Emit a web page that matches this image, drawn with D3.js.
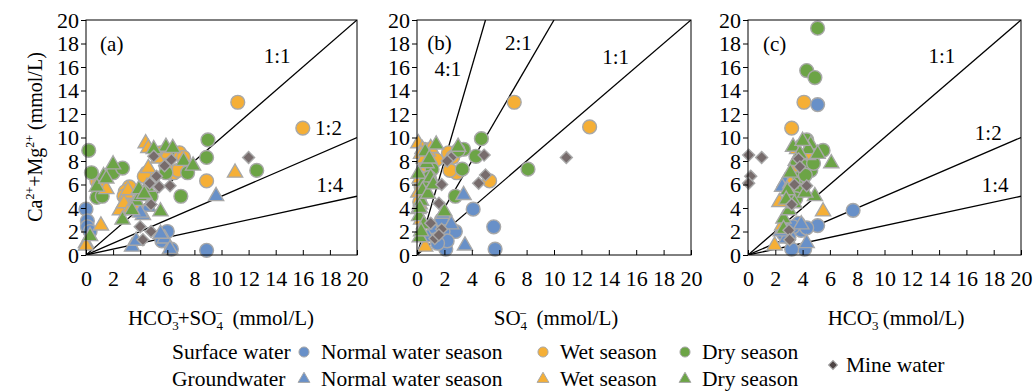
<!DOCTYPE html>
<html>
<head>
<meta charset="utf-8">
<script src="https://cdn.jsdelivr.net/npm/d3@7/dist/d3.min.js"></script>
<style>
  body { margin: 0; background: #fff; }
  svg text { font-family: "Liberation Serif", "Tinos", "Times New Roman", "DejaVu Serif", serif; fill: #000; }
</style>
</head>
<body>
<svg id="chart" width="1035" height="392"></svg>
<script>
// axis ticks (mmol/L), shared by all panels
const ticks = [0, 2, 4, 6, 8, 10, 12, 14, 16, 18, 20];

// (a) HCO3- + SO4- vs Ca2+ + Mg2+
const aSurfNormal = [[0,3.9],[0.1,2.9],[0.1,2.4],[0.3,2.0],[6.0,2.0],[5.6,1.2],[6.3,0.5],[8.9,0.4]];
const aSurfWet = [[11.2,13.0],[16.0,10.8],[8.9,6.3],[0.8,6.3],[1.0,6.1],[3.2,5.8],[2.9,5.4],[2.8,5.0],[3.0,4.6],[4.5,7.0],[4.3,6.7],[5.5,8.7],[6.2,8.8],[6.9,8.7],[7.2,8.3],[6.5,7.0],[6.8,7.2],[5.9,7.6],[3.5,4.3]];
const aSurfDry = [[0.2,8.9],[0.4,7.0],[2.0,7.0],[2.7,7.4],[0.8,4.9],[1.2,5.0],[9.0,9.8],[8.9,8.3],[12.6,7.2],[7.0,5.0],[7.5,7.0],[5.9,7.0],[4.8,5.0],[6.1,8.9]];
const aGwNormal = [[9.6,5.0],[3.4,0.7],[4.2,3.4],[4.6,4.1],[5.8,1.4],[5.5,1.8],[6.2,0.5],[0,1.0],[4.0,3.6],[3.7,1.2]];
const aGwWet = [[4.4,9.5],[4.6,9.1],[11.0,7.0],[1.1,2.5],[0,0.8],[4.6,7.4],[1.5,5.6],[3.0,5.2],[2.5,3.8],[3.1,5.5],[2.8,4.4],[6.0,8.6],[5.3,8.2],[3.3,4.0]];
const aGwDry = [[2.0,7.7],[1.3,6.7],[0.8,5.8],[0.3,1.6],[5.9,9.2],[6.4,9.1],[7.2,8.0],[7.9,7.6],[5.5,3.7],[3.7,4.6],[2.7,3.0],[3.4,3.8],[4.0,5.0],[4.5,5.8],[1.5,6.5],[5.0,9.0],[3.9,5.6],[4.3,5.2]];
const aMine = [[5.0,8.4],[5.8,7.6],[6.3,8.1],[5.2,6.7],[4.7,6.1],[5.4,5.8],[6.2,5.9],[4.8,4.3],[4.0,2.4],[4.8,2.0],[4.2,1.3],[12.0,8.3]];

// (b) SO4- vs Ca2+ + Mg2+
const bSurfNormal = [[4.1,3.9],[5.6,2.4],[5.7,0.5],[2.1,0.5],[2.8,2.0],[1.8,3.0],[1.9,2.0],[2.2,1.2],[1.5,1.0]];
const bSurfWet = [[7.1,13.0],[12.6,10.9],[5.3,6.3],[2.9,7.0],[2.3,8.7],[1.4,8.1],[2.6,8.3],[0.5,9.0],[0.3,5.8],[0.7,7.6],[0.2,4.5],[2.4,7.2]];
const bSurfDry = [[4.7,9.9],[8.1,7.3],[4.3,8.4],[3.4,9.0],[3.3,7.3],[2.8,5.0],[1.1,7.3],[0.9,6.6],[0.4,5.3],[3.0,8.9]];
const bGwNormal = [[3.5,0.8],[3.4,5.1],[1.9,3.5],[1.2,2.2],[0.8,1.5],[2.5,2.6]];
const bGwWet = [[0.1,9.5],[0.4,9.0],[0.3,8.6],[0.6,7.9],[0.2,6.5],[0.1,5.3],[0.2,4.3],[0.1,3.9],[0.6,0.7],[0.3,3.0],[0.8,8.8],[0.5,8.2],[1.0,9.1]];
const bGwDry = [[0.2,1.5],[0.15,3.3],[0.3,4.6],[0.45,6.2],[0.7,7.8],[1.4,9.4],[3.0,9.2],[2.0,3.7],[0.1,6.9],[0.6,8.8],[0.9,8.2],[0.4,5.5],[0.2,4.0],[1.0,6.6],[0.8,5.2],[1.2,6.0],[0.5,2.6],[0.3,2.0]];
const bMine = [[4.9,8.5],[10.9,8.3],[5.0,6.8],[4.5,6.1],[2.5,8.3],[1.8,6.0],[1.6,4.4],[1.8,2.2],[1.3,1.4],[2.2,8.0],[1.0,2.7],[1.6,1.7]];

// (c) HCO3- vs Ca2+ + Mg2+
const cSurfNormal = [[5.1,12.8],[7.7,3.8],[5.1,2.5],[4.15,0.5],[3.2,0.5],[3.7,2.7],[3.9,2.1],[3.3,2.4],[2.6,1.8],[4.3,2.3],[3.0,1.5]];
const cSurfWet = [[4.1,13.0],[3.2,10.8],[4.2,8.0],[3.9,7.0],[4.4,8.6],[3.6,7.5],[4.0,6.2],[3.3,5.4]];
const cSurfDry = [[5.1,19.3],[4.3,15.7],[4.9,15.1],[4.3,9.8],[5.5,8.9],[4.5,8.2],[4.6,7.2],[4.0,7.6],[3.6,6.5],[3.9,5.5],[3.5,4.8],[4.2,6.8],[4.8,7.8],[3.3,6.2]];
const cGwNormal = [[2.7,6.2],[4.3,1.0],[2.8,1.4],[2.4,2.0],[3.9,2.6],[2.5,5.8]];
const cGwWet = [[5.5,3.7],[2.3,4.5],[1.95,0.8],[3.6,9.0],[4.4,8.5],[3.1,6.1],[2.5,2.5]];
const cGwDry = [[6.1,7.8],[3.3,9.2],[2.6,3.1],[4.6,9.4],[4.4,9.0],[3.8,8.6],[3.5,8.0],[3.1,7.0],[2.9,5.5],[2.8,4.7],[3.0,3.8],[4.9,5.0],[4.2,5.3],[3.4,4.4],[2.6,2.2],[4.0,9.7],[5.1,8.6]];
const cMine = [[0.05,8.5],[1.0,8.3],[0.2,6.7],[0.05,6.1],[3.7,8.2],[3.8,7.5],[3.4,6.0],[4.3,5.9],[3.2,4.3],[3.0,2.1],[3.05,1.3]];

// ratio lines (y = slope * x)
const slopesAC = [1, 0.5, 0.25];
const labelsAC = ['1:1', '1:2', '1:4'];
const slopesB = [1, 2, 4];
const labelsB = ['1:1', '2:1', '4:1'];

const legendSeasons = ['Normal water season', 'Wet season', 'Dry season'];

const colNormal = '#6890c8', colWet = '#f5af36', colDry = '#6ca446', colMine = '#776c6c';
const edge = '#a8a8a8';
const serif = '"Liberation Serif", "Tinos", "Times New Roman", "DejaVu Serif", serif';

const svg = d3.select('#chart').attr('font-family', serif);
const plotTop = 20, plotBottom = 255;

const ys = d3.scaleLinear().domain([0, 20]).range([plotBottom, plotTop]);

function markerPath(kind, size) {
    if (kind === 'tri') return d3.symbol(d3.symbolTriangle, size)();
    if (kind === 'dia') return d3.symbol(d3.symbolSquare, size)();
    return d3.symbol(d3.symbolCircle, size)();
}

const panels = [
    { id: 'a', tag: '(a)', left: 86, right: 357,
      series: [aSurfNormal, aSurfWet, aSurfDry, aGwNormal, aGwWet, aGwDry, aMine],
      slopes: slopesAC, labels: labelsAC,
      labelPos: [[14.1, 17.0], [17.9, 10.8], [18.0, 6.0]], tagPos: [1.9, 18.0] },
    { id: 'b', tag: '(b)', left: 417, right: 691,
      series: [bSurfNormal, bSurfWet, bSurfDry, bGwNormal, bGwWet, bGwDry, bMine],
      slopes: slopesB, labels: labelsB,
      labelPos: [[14.5, 16.85], [7.4, 18.1], [2.25, 15.9]], tagPos: [1.65, 18.1] },
    { id: 'c', tag: '(c)', left: 748, right: 1021,
      series: [cSurfNormal, cSurfWet, cSurfDry, cGwNormal, cGwWet, cGwDry, cMine],
      slopes: slopesAC, labels: labelsAC,
      labelPos: [[14.2, 17.0], [17.6, 10.4], [18.1, 6.0]], tagPos: [1.95, 18.0] }
];

// style per series, same order as panel.series
const styles = [
    { kind: 'circle', fill: colNormal, size: 150 },
    { kind: 'circle', fill: colWet, size: 150 },
    { kind: 'circle', fill: colDry, size: 150 },
    { kind: 'tri', fill: colNormal, size: 100 },
    { kind: 'tri', fill: colWet, size: 100 },
    { kind: 'tri', fill: colDry, size: 100 },
    { kind: 'dia', fill: colMine, size: 72 }
];

panels.forEach(p => {
    const xs = d3.scaleLinear().domain([0, 20]).range([p.left, p.right]);
    const g = svg.append('g');

    g.append('clipPath').attr('id', 'clip-' + p.id)
        .append('rect')
        .attr('x', p.left).attr('y', plotTop)
        .attr('width', p.right - p.left).attr('height', plotBottom - plotTop);

    // ratio lines
    g.append('g').attr('clip-path', 'url(#clip-' + p.id + ')')
        .selectAll('line')
        .data(p.slopes)
        .join('line')
        .attr('x1', xs(0)).attr('y1', ys(0))
        .attr('x2', s => xs(s >= 1 ? 20 / s : 20))
        .attr('y2', s => ys(s >= 1 ? 20 : 20 * s))
        .style('stroke', '#000')
        .style('stroke-width', '1.3px');

    // points
    p.series.forEach((pts, i) => {
        const st = styles[i];
        g.append('g').selectAll('path')
            .data(pts)
            .join('path')
            .attr('d', markerPath(st.kind, st.size))
            .attr('transform', d => 'translate(' + xs(d[0]) + ',' + ys(d[1]) + ')' + (st.kind === 'dia' ? ' rotate(45)' : ''))
            .style('fill', st.fill)
            .style('stroke', edge)
            .style('stroke-width', '1.4px');
    });

    // frame
    g.append('rect')
        .attr('x', p.left).attr('y', plotTop)
        .attr('width', p.right - p.left).attr('height', plotBottom - plotTop)
        .style('fill', 'none').style('stroke', '#000').style('stroke-width', '1px');

    const yAxis = d3.axisLeft(ys).tickValues(ticks).tickSize(5).tickPadding(2);
    const xAxis = d3.axisBottom(xs).tickValues(ticks).tickSize(-5).tickPadding(15);

    const ya = g.append('g').attr('transform', 'translate(' + p.left + ',0)').call(yAxis);
    const xa = g.append('g').attr('transform', 'translate(0,' + plotBottom + ')').call(xAxis);
    [ya, xa].forEach(a => {
        a.attr('font-family', null).attr('font-size', null);
        a.select('.domain').remove();
        a.selectAll('line').style('stroke', '#000');
        a.selectAll('text').style('font-size', '22px');
    });

    // ratio labels
    g.selectAll('.ratio')
        .data(p.labels)
        .join('text')
        .attr('class', 'ratio')
        .attr('x', (d, i) => xs(p.labelPos[i][0]))
        .attr('y', (d, i) => ys(p.labelPos[i][1]))
        .attr('dy', '0.35em')
        .style('text-anchor', 'middle')
        .style('font-size', '21px')
        .text(d => d);

    g.append('text')
        .attr('x', xs(p.tagPos[0])).attr('y', ys(p.tagPos[1]))
        .attr('dy', '0.35em')
        .style('text-anchor', 'middle')
        .style('font-size', '21px')
        .text(p.tag);
});

// x-axis titles, ion with subscript and a charge bar stacked above it
function ion(t, base, sub, after) {
    t.append('tspan').text(base);
    t.append('tspan').text(sub).attr('dy', 5).style('font-size', '13px');
    t.append('tspan').text('\u2013').attr('dx', -7).attr('dy', -14).style('font-size', '12px');
    t.append('tspan').text(after).attr('dy', 9);
}

const t1 = svg.append('text').attr('x', 221).attr('y', 325).style('text-anchor', 'middle').style('font-size', '21px');
ion(t1, 'HCO', '3', '+SO');
t1.append('tspan').text('4').attr('dy', 5).style('font-size', '13px');
t1.append('tspan').text('\u2013').attr('dx', -7).attr('dy', -14).style('font-size', '12px');
t1.append('tspan').text('\u00a0 (mmol/L)').attr('dy', 9);

const t2 = svg.append('text').attr('x', 556).attr('y', 325).style('text-anchor', 'middle').style('font-size', '21px');
ion(t2, 'SO', '4', '\u00a0 (mmol/L)');

const t3 = svg.append('text').attr('x', 896).attr('y', 325).style('text-anchor', 'middle').style('font-size', '21px');
ion(t3, 'HCO', '3', ' (mmol/L)');

// y-axis title
const yt = svg.append('text')
    .attr('transform', 'translate(42,137) rotate(-90)')
    .style('text-anchor', 'middle')
    .style('font-size', '20px');
yt.append('tspan').text('Ca');
yt.append('tspan').text('2+').attr('dy', -8).style('font-size', '12px');
yt.append('tspan').text('+Mg').attr('dy', 8);
yt.append('tspan').text('2+').attr('dy', -8).style('font-size', '12px');
yt.append('tspan').text(' (mmol/L)').attr('dy', 8);

// legend
const legend = svg.append('g');
const rowY = [352, 379];
const rowNames = ['Surface water', 'Groundwater'];
const colX = [304, 543, 685];
const seasonCols = [colNormal, colWet, colDry];

rowNames.forEach((name, r) => {
    legend.append('text').attr('x', 172).attr('y', rowY[r]).attr('dy', '0.33em')
        .style('font-size', '21.5px').text(name);
    legendSeasons.forEach((s, i) => {
        legend.append('path')
            .attr('d', markerPath(r === 0 ? 'circle' : 'tri', r === 0 ? 80 : 60))
            .attr('transform', 'translate(' + colX[i] + ',' + rowY[r] + ')')
            .style('fill', seasonCols[i])
            .style('stroke', edge)
            .style('stroke-width', '1px');
        legend.append('text').attr('x', colX[i] + 17).attr('y', rowY[r]).attr('dy', '0.33em')
            .style('font-size', '21.5px').text(s);
    });
});

legend.append('path')
    .attr('d', markerPath('dia', 40))
    .attr('transform', 'translate(833,365) rotate(45)')
    .style('fill', '#4d4444')
    .style('stroke', edge)
    .style('stroke-width', '1px');
legend.append('text').attr('x', 846).attr('y', 365).attr('dy', '0.33em')
    .style('font-size', '21.5px').text('Mine water');
</script>
</body>
</html>
